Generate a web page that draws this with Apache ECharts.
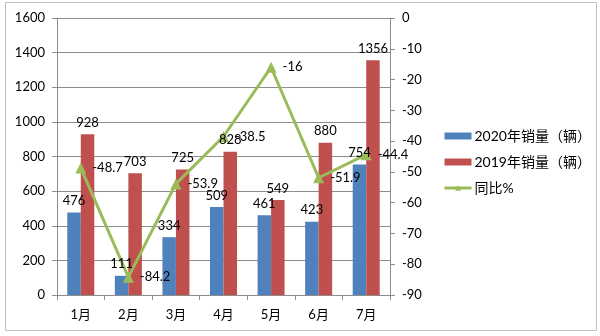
<!DOCTYPE html>
<html>
<head>
<meta charset="utf-8">
<script src="https://cdn.jsdelivr.net/npm/echarts@6/dist/echarts.min.js"></script>
<style>
  html, body { margin: 0; padding: 0; background: #fff; }
  #chart { width: 600px; height: 336px; }
</style>
</head>
<body>
<div id="chart"></div>
<script>
// Monthly sales, 2020 vs 2019, with year-on-year change
const months = ['1月', '2月', '3月', '4月', '5月', '6月', '7月'];
const sales2020 = [476, 111, 334, 509, 461, 423, 754];
const sales2019 = [928, 703, 725, 828, 549, 880, 1356];
const yoyPct = [-48.7, -84.2, -53.9, -38.5, -16, -51.9, -44.4];

const FONT = 'Lato, "Noto Sans CJK SC", sans-serif';
const gridColor = '#8c8c8c';
const plain = v => String(v);
const barLabel = { show: true, position: 'top', distance: 5, fontFamily: FONT, fontSize: 13, color: '#000' };

const chart = echarts.init(document.getElementById('chart'), null, { renderer: 'canvas' });

chart.setOption({
  animation: false,
  backgroundColor: '#fff',
  textStyle: { fontFamily: FONT, color: '#000' },
  graphic: [{
    type: 'rect',
    shape: { x: 5.5, y: 2.5, width: 591, height: 328 },
    style: { fill: 'none', stroke: '#bfbfbf', lineWidth: 1 },
    silent: true
  }],
  grid: { left: 57, right: 210, top: 18, bottom: 41 },
  legend: {
    orient: 'vertical',
    left: 438,
    top: 124,
    itemWidth: 27,
    itemHeight: 7,
    itemGap: 12,
    textStyle: { fontFamily: FONT, fontSize: 14, color: '#000', padding: [0, 0, 0, -2] },
    data: [
      { name: '2020年销量（辆）', icon: 'rect' },
      { name: '2019年销量（辆）', icon: 'rect' },
      { name: '同比%', lineStyle: { width: 3 } }
    ]
  },
  xAxis: [{
    type: 'category',
    data: months,
    boundaryGap: true,
    axisLine: { lineStyle: { color: gridColor } },
    axisTick: { show: true, length: 5, lineStyle: { color: gridColor } },
    axisLabel: { fontFamily: FONT, fontSize: 13, color: '#000', margin: 13 }
  }, {
    // overlay axis carrying the bar value labels above the line
    type: 'category',
    data: months,
    boundaryGap: true,
    show: false
  }],
  yAxis: [{
    type: 'value',
    min: 0, max: 1600, interval: 200,
    axisLine: { show: true, lineStyle: { color: gridColor } },
    axisTick: { show: true, length: 5, lineStyle: { color: gridColor } },
    axisLabel: { fontFamily: FONT, fontSize: 13, color: '#000', margin: 12, formatter: plain },
    splitLine: { show: true, lineStyle: { color: gridColor, width: 1 } }
  }, {
    type: 'value',
    min: -90, max: 0, interval: 10,
    position: 'right',
    axisLine: { show: true, lineStyle: { color: gridColor } },
    axisTick: { show: true, length: 5, lineStyle: { color: gridColor } },
    axisLabel: { fontFamily: FONT, fontSize: 13, color: '#000', margin: 12, formatter: plain },
    splitLine: { show: false }
  }],
  series: [{
    name: '2020年销量（辆）',
    type: 'bar',
    data: sales2020,
    barWidth: 13.5,
    barGap: '0%',
    itemStyle: { color: '#4f81bd' }
  }, {
    name: '2019年销量（辆）',
    type: 'bar',
    data: sales2019,
    barWidth: 13.5,
    barGap: '0%',
    itemStyle: { color: '#c0504d' }
  }, {
    name: '同比%',
    type: 'line',
    yAxisIndex: 1,
    data: yoyPct,
    symbol: 'triangle',
    symbolSize: 11,
    lineStyle: { color: '#9bbb59', width: 3 },
    itemStyle: { color: '#9bbb59' },
    label: { show: true, position: 'right', distance: 6, fontFamily: FONT, fontSize: 13, color: '#000' },
    z: 3
  }, {
    name: 'label2020',
    type: 'bar',
    xAxisIndex: 1,
    data: sales2020,
    barWidth: 13.5,
    barGap: '0%',
    itemStyle: { color: 'rgba(0,0,0,0)' },
    label: barLabel,
    silent: true,
    z: 6
  }, {
    name: 'label2019',
    type: 'bar',
    xAxisIndex: 1,
    data: sales2019,
    barWidth: 13.5,
    barGap: '0%',
    itemStyle: { color: 'rgba(0,0,0,0)' },
    label: barLabel,
    silent: true,
    z: 6
  }]
});
</script>
</body>
</html>
